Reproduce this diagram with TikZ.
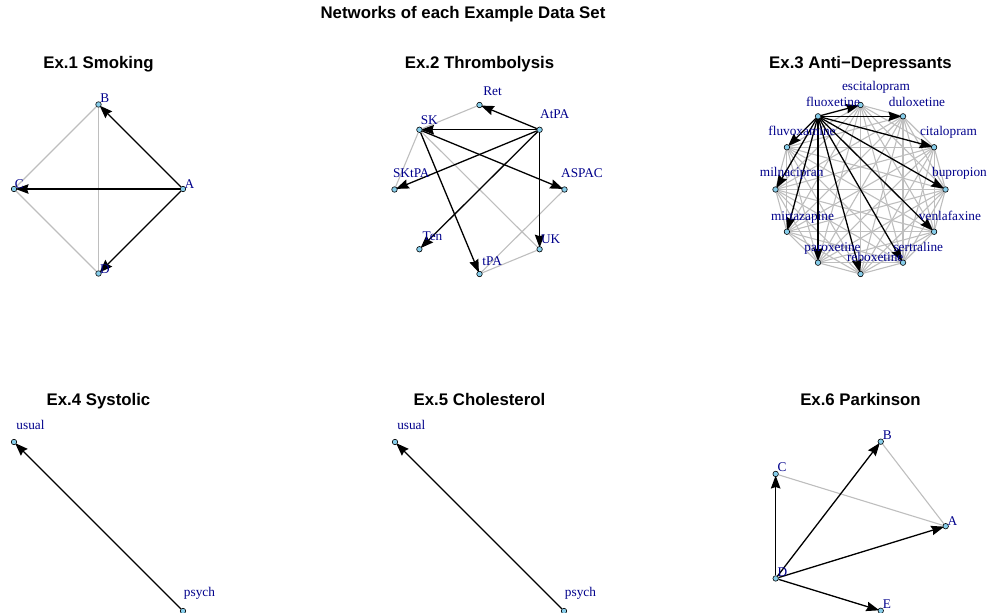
\documentclass[tikz,border=0pt]{standalone}
\usepackage{fontspec}
\setmainfont{Liberation Serif}
\newfontfamily\helv{Liberation Sans}
\usetikzlibrary{arrows.meta}
\definecolor{nodeblue}{HTML}{87CEEB}
\definecolor{labelblue}{HTML}{00008B}
\definecolor{edgegray}{HTML}{BEBEBE}
\pgfdeclarelayer{edges}
\pgfsetlayers{edges,main}
\tikzset{
 vtx/.style={circle, draw=black, fill=nodeblue, line width=0.6pt, inner sep=0pt, minimum size=5.5pt},
 lbl/.style={anchor=base, text=labelblue, font=\fontsize{13.3}{15}\selectfont, inner sep=0pt},
 gedge/.style={draw=edgegray, line width=1.1pt},
 aedge/.style={draw=black, line width=1.3pt, -{Stealth[length=13pt,width=9.5pt,inset=1.5pt]}, shorten >=-1.5pt},
 ttl/.style={anchor=base, font=\helv\bfseries\fontsize{16.8}{18}\selectfont, inner sep=0pt},
}
\begin{document}
\begin{tikzpicture}[x=1pt,y=-1pt]
\useasboundingbox (0,0) rectangle (988,613);
\node[ttl] (main) at (463,18.5) {Networks of each Example Data Set};
% titles
\node[ttl] (t1) at (98.5,68.3) {Ex.1 Smoking};
\node[ttl] (t2) at (479.5,68.3) {Ex.2 Thrombolysis};
\node[ttl] (t3) at (860.5,68.3) {Ex.3 Anti\textminus Depressants};
\node[ttl] (t4) at (98.5,405.3) {Ex.4 Systolic};
\node[ttl] (t5) at (479.5,405.3) {Ex.5 Cholesterol};
\node[ttl] (t6) at (860.5,405.3) {Ex.6 Parkinson};
% ---------- panel 1
\node[vtx] (aA) at (183,189) {};
\node[vtx] (aB) at (98.5,104.5) {};
\node[vtx] (aC) at (14,189) {};
\node[vtx] (aD) at (98.5,273.5) {};
\begin{pgfonlayer}{edges}
\draw[gedge] (aB) -- (aC);
\draw[gedge] (aB) -- (aD);
\draw[gedge] (aC) -- (aD);
\draw[aedge] (aA) -- (aB);
\draw[aedge] (aA) -- (aC);
\draw[aedge] (aA) -- (aD);
\end{pgfonlayer}
\node[lbl] (laB) at (104.7,102.7) {B};
\node[lbl] (laA) at (189.5,188.3) {A};
\node[lbl] (laC) at (19.2,188.5) {C};
\node[lbl] (laD) at (105,273.3) {D};
% ---------- panel 2
\node[vtx] (bRet) at ({479.5+85*cos(90)},{189.5-84.5*sin(90)}) {};
\node[vtx] (bAtPA) at ({479.5+85*cos(45)},{189.5-84.5*sin(45)}) {};
\node[vtx] (bASPAC) at ({479.5+85*cos(0)},{189.5-84.5*sin(0)}) {};
\node[vtx] (bUK) at ({479.5+85*cos(-45)},{189.5-84.5*sin(-45)}) {};
\node[vtx] (btPA) at ({479.5+85*cos(-90)},{189.5-84.5*sin(-90)}) {};
\node[vtx] (bTen) at ({479.5+85*cos(-135)},{189.5-84.5*sin(-135)}) {};
\node[vtx] (bSKtPA) at ({479.5+85*cos(180)},{189.5-84.5*sin(180)}) {};
\node[vtx] (bSK) at ({479.5+85*cos(135)},{189.5-84.5*sin(135)}) {};
\begin{pgfonlayer}{edges}
\draw[gedge] (bRet) -- (bSK);
\draw[gedge] (bSK) -- (bSKtPA);
\draw[gedge] (bSK) -- (bUK);
\draw[gedge] (bASPAC) -- (btPA);
\draw[gedge] (btPA) -- (bUK);
\draw[aedge] (bAtPA) -- (bRet);
\draw[aedge] (bAtPA) -- (bSK);
\draw[aedge] (bAtPA) -- (bSKtPA);
\draw[aedge] (bAtPA) -- (bTen);
\draw[aedge] (bAtPA) -- (bUK);
\draw[aedge] (bSK) -- (bASPAC);
\draw[aedge] (bSK) -- (btPA);
\end{pgfonlayer}
\node[lbl] (lbRet) at (492.5,95.7) {Ret};
\node[lbl] (lbAtPA) at (554.7,118.3) {AtPA};
\node[lbl] (lbSK) at (429.3,124) {SK};
\node[lbl] (lbSKtPA) at (411.3,177.3) {SKtPA};
\node[lbl] (lbASPAC) at (582,177.3) {ASPAC};
\node[lbl] (lbTen) at (432.5,240.7) {Ten};
\node[lbl] (lbUK) at (550.7,243.3) {UK};
\node[lbl] (lbtPA) at (492.2,265.3) {tPA};
% ---------- panel 3
\foreach \n/\a in {esc/90,dul/60,cit/30,bup/0,ven/-30,ser/-60,reb/-90,par/-120,mir/-150,mil/180,fluv/150,flu/120}{
  \node[vtx] (c\n) at ({860.5+85*cos(\a)},{189.5-84.5*sin(\a)}) {};
}
\begin{pgfonlayer}{edges}
\foreach \p/\q in {esc/dul,esc/cit,esc/bup,esc/ven,esc/ser,esc/reb,esc/par,esc/mir,esc/mil,esc/fluv,
  dul/cit,dul/bup,dul/ven,dul/ser,dul/reb,dul/par,dul/mir,dul/mil,dul/fluv,
  cit/bup,cit/ven,cit/ser,cit/reb,cit/par,cit/mir,cit/mil,cit/fluv,
  bup/ven,bup/ser,bup/reb,bup/par,bup/mir,bup/mil,bup/fluv,
  ven/ser,ven/reb,ven/par,ven/mir,ven/mil,ven/fluv,
  ser/reb,ser/par,ser/mir,ser/mil,ser/fluv,
  reb/par,reb/mir,reb/mil,reb/fluv,
  par/mir,par/mil,par/fluv,
  mir/mil,mir/fluv,
  mil/fluv}{
  \draw[gedge] (c\p) -- (c\q);
}
\foreach \q in {esc,dul,cit,bup,ven,ser,reb,par,mir,mil,fluv}{
  \draw[aedge] (cflu) -- (c\q);
}
\end{pgfonlayer}
\node[lbl] (lcesc) at (876,90.5) {escitalopram};
\node[lbl] (lcflu) at (833,106) {fluoxetine};
\node[lbl] (lcdul) at (917,106) {duloxetine};
\node[lbl] (lcfluv) at (802,135) {fluvoxamine};
\node[lbl] (lccit) at (948.5,135) {citalopram};
\node[lbl] (lcmil) at (791.7,176.7) {milnacipran};
\node[lbl] (lcbup) at (959.5,176.7) {bupropion};
\node[lbl] (lcmir) at (802.5,220) {mirtazapine};
\node[lbl] (lcven) at (950,220) {venlafaxine};
\node[lbl] (lcpar) at (832.5,251) {paroxetine};
\node[lbl] (lcser) at (918.3,251) {sertraline};
\node[lbl] (lcreb) at (875.3,261.7) {reboxetine};
% ---------- panel 4
\node[vtx] (dusual) at (14,442) {};
\node[vtx] (dpsych) at (183,611) {};
\begin{pgfonlayer}{edges}
\draw[aedge] (dpsych) -- (dusual);
\end{pgfonlayer}
\node[lbl] (ldusual) at (30.5,429.3) {usual};
\node[lbl] (ldpsych) at (199.5,596.7) {psych};
% ---------- panel 5
\node[vtx] (eusual) at (395,442) {};
\node[vtx] (epsych) at (564,611) {};
\begin{pgfonlayer}{edges}
\draw[aedge] (epsych) -- (eusual);
\end{pgfonlayer}
\node[lbl] (leusual) at (411.3,429.3) {usual};
\node[lbl] (lepsych) at (580.5,596.7) {psych};
% ---------- panel 6
\node[vtx] (fA) at ({851.7+94*cos(0)},{526.2-88.9*sin(0)}) {};
\node[vtx] (fB) at ({851.7+94*cos(72)},{526.2-88.9*sin(72)}) {};
\node[vtx] (fC) at ({851.7+94*cos(144)},{526.2-88.9*sin(144)}) {};
\node[vtx] (fD) at ({851.7+94*cos(216)},{526.2-88.9*sin(216)}) {};
\node[vtx] (fE) at ({851.7+94*cos(288)},{526.2-88.9*sin(288)}) {};
\begin{pgfonlayer}{edges}
\draw[gedge] (fC) -- (fA);
\draw[gedge] (fB) -- (fA);
\draw[aedge] (fD) -- (fC);
\draw[aedge] (fD) -- (fB);
\draw[aedge] (fD) -- (fA);
\draw[aedge] (fD) -- (fE);
\end{pgfonlayer}
\node[lbl] (lfB) at (887.2,439.3) {B};
\node[lbl] (lfC) at (782,471.7) {C};
\node[lbl] (lfA) at (952.3,525) {A};
\node[lbl] (lfD) at (782.3,576.7) {D};
\node[lbl] (lfE) at (887,608.3) {E};
\end{tikzpicture}
\end{document}
